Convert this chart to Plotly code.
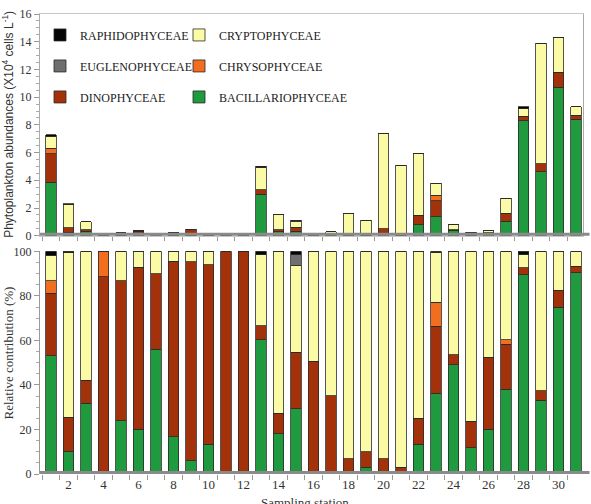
import numpy as np
import plotly.graph_objects as go
from plotly.subplots import make_subplots

stations = list(range(1, 32))
x_tick_labels = [str(v) for v in range(2, 31, 2)]

# Total abundance per station (x10^4 cells/L)
total_abundance = [7.3, 2.3, 1.0, 0.05, 0.2, 0.35, 0.1, 0.25, 0.45, 0.15, 0.1, 0.1,
                   5.0, 1.55, 1.1, 0.05, 0.3, 1.6, 1.1, 7.4, 5.1, 5.9, 3.8, 0.8,
                   0.25, 0.4, 2.7, 9.3, 13.9, 14.3, 9.3]

# Relative contribution (%) per class
bacillario_pct = [53.1, 10.3, 31.7, 0, 24.0, 20.0, 56.0, 16.7, 5.9, 13.4, 0, 0,
                  60.2, 18.1, 29.2, 0, 0, 1.0, 3.0, 1.0, 0, 13.3, 36.3, 49.1,
                  11.8, 20.1, 38.1, 89.4, 33.2, 74.9, 90.4]
dino_pct = [28.0, 15.2, 10.5, 88.5, 62.7, 72.9, 34.0, 78.9, 89.4, 80.7, 100, 100,
            6.3, 9.2, 25.4, 50.6, 35.1, 5.8, 7.0, 5.8, 3.1, 11.8, 30.1, 4.4,
            11.9, 32.4, 20.2, 3.2, 4.1, 7.7, 3.0]
chryso_pct = [5.6, 0, 0, 11.5, 0, 0, 0, 0, 0, 0, 0, 0,
              0, 0, 0, 0, 0, 0, 0, 0, 0, 0, 10.7, 0,
              0, 0, 1.9, 0, 0, 0, 0]
crypto_pct = [11.5, 73.8, 57.8, 0, 13.3, 7.1, 10.0, 4.4, 4.7, 5.9, 0, 0,
              32.0, 72.7, 39.2, 49.4, 64.9, 93.2, 90.0, 93.2, 96.9, 74.9, 22.4, 46.5,
              76.3, 47.5, 39.8, 5.9, 62.7, 17.4, 6.6]
eugleno_pct = [0, 0, 0, 0, 0, 0, 0, 0, 0, 0, 0, 0,
               0, 0, 4.7, 0, 0, 0, 0, 0, 0, 0, 0, 0,
               0, 0, 0, 0, 0, 0, 0]
raphido_pct = [1.8, 0.7, 0, 0, 0, 0, 0, 0, 0, 0, 0, 0,
               1.5, 0, 1.5, 0, 0, 0, 0, 0, 0, 0, 0.5, 0,
               0, 0, 0, 1.5, 0, 0, 0]

# (name, values, colour, legend column, rank within column)
series = [
    ("BACILLARIOPHYCEAE", bacillario_pct, "#1f9a3f", "legend2", 3),
    ("DINOPHYCEAE", dino_pct, "#a3320a", "legend", 3),
    ("CHRYSOPHYCEAE", chryso_pct, "#f36d1e", "legend2", 2),
    ("CRYPTOPHYCEAE", crypto_pct, "#fbfba6", "legend2", 1),
    ("EUGLENOPHYCEAE", eugleno_pct, "#6f6f6f", "legend", 2),
    ("RAPHIDOPHYCEAE", raphido_pct, "#050505", "legend", 1),
]

fig = make_subplots(rows=2, cols=1, vertical_spacing=0.0)
tot = np.array(total_abundance)
for name, pct, color, leg, rank in series:
    p = np.array(pct, dtype=float)
    mk = dict(color=color, line=dict(color="#2a2a2a", width=0.8))
    fig.add_trace(go.Bar(x=stations, y=tot * p / 100.0, name=name, marker=mk,
                         legend=leg, legendgroup=name, legendrank=rank,
                         showlegend=True),
                  row=1, col=1)
    fig.add_trace(go.Bar(x=stations, y=p, name=name, marker=mk,
                         legendgroup=name, showlegend=False),
                  row=2, col=1)

serif = "Liberation Serif"
sans = "Liberation Sans"

fig.update_layout(
    width=591, height=504,
    margin=dict(l=40, r=8, t=7, b=30),
    barmode="stack", bargap=0.38,
    plot_bgcolor="white", paper_bgcolor="white",
    font=dict(family=serif, size=12, color="#333"),
    legend=dict(x=0.0, y=0.986, xanchor="left", yanchor="top",
                traceorder="grouped", tracegroupgap=12,
                font=dict(family=serif, size=12, color="#222"),
                bgcolor="rgba(0,0,0,0)"),
    legend2=dict(x=0.256, y=0.986, xanchor="left", yanchor="top",
                 traceorder="grouped", tracegroupgap=12,
                 font=dict(family=serif, size=12, color="#222"),
                 bgcolor="rgba(0,0,0,0)"),
)

xcommon = dict(range=[0.37, 31.4], showgrid=False, zeroline=False)
fig.update_xaxes(**xcommon, row=1, col=1, showline=True, mirror=True,
                 linecolor="#c8c8c8", showticklabels=False, ticks="",
                 minor=dict(tick0=0.5, dtick=1, ticks="outside", ticklen=4,
                            tickcolor="#999", showgrid=False))
fig.update_xaxes(**xcommon, row=2, col=1, showline=False,
                 tickvals=list(range(2, 31, 2)), ticktext=x_tick_labels,
                 ticks="", ticklabelstandoff=1,
                 tickfont=dict(family=serif, size=13, color="#333"),
                 minor=dict(tick0=0.5, dtick=1, ticks="outside", ticklen=5,
                            tickcolor="#999", showgrid=False))
fig.update_yaxes(row=1, col=1, range=[0, 16], dtick=2, showgrid=False,
                 zeroline=False, showline=True, mirror=True, linecolor="#aaa",
                 ticks="outside", ticklen=5, tickcolor="#999",
                 tickfont=dict(family=serif, size=12, color="#333"),
                 minor=dict(dtick=0.5, ticks="outside", ticklen=3,
                            tickcolor="#aaa", showgrid=False))
fig.update_yaxes(row=2, col=1, range=[0, 100], dtick=20, showgrid=False,
                 zeroline=False, showline=True, linecolor="#999",
                 ticks="outside", ticklen=5, tickcolor="#999",
                 tickfont=dict(family=serif, size=12, color="#333"),
                 minor=dict(dtick=5, ticks="outside", ticklen=3,
                            tickcolor="#aaa", showgrid=False))

top_dom = [0.518, 1.0]
bot_dom = [0.0, 0.484]
fig.update_layout(yaxis=dict(domain=top_dom), yaxis2=dict(domain=bot_dom))

# grey floor bands
for xr, yr in (("x domain", "y"), ("x2 domain", "y2")):
    fig.add_shape(type="rect", xref=xr, yref=yr, x0=0, x1=1.012,
                  ysizemode="pixel", yanchor=0, y0=-2, y1=3,
                  fillcolor="#8a8a8a", line=dict(width=0), layer="above")

fig.add_annotation(text="Phytoplankton abundances (X10<sup>4</sup> cells L<sup>-1</sup>)",
                   xref="paper", yref="paper", x=0, y=sum(top_dom) / 2,
                   xanchor="center", yanchor="middle",
                   xshift=-32, textangle=-90, showarrow=False,
                   font=dict(family=sans, size=12, color="#333"))
fig.add_annotation(text="Relative contribution (%)",
                   xref="paper", yref="paper", x=0, y=sum(bot_dom) / 2 + 0.02,
                   xanchor="center", yanchor="middle",
                   xshift=-32, textangle=-90, showarrow=False,
                   font=dict(family=serif, size=13, color="#333"))
fig.add_annotation(text="Sampling station", xref="paper", yref="paper",
                   x=0.488, y=0, yshift=-28, xanchor="center", yanchor="middle",
                   showarrow=False,
                   font=dict(family=serif, size=13, color="#333"))

fig.write_html("out.html")
